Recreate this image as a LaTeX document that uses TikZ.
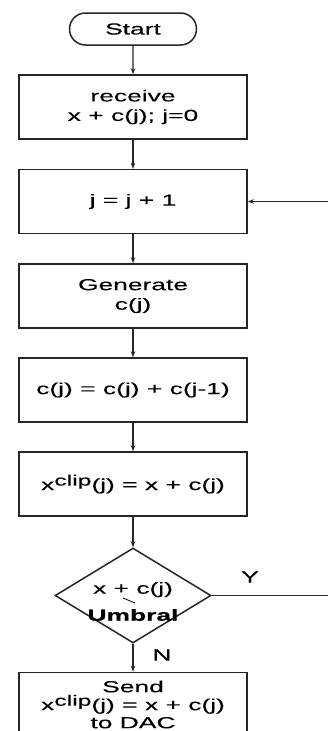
\documentclass[tikz,border=0pt]{standalone}
\usepackage{fontspec}
\setmainfont[FakeStretch=1.65, FakeBold=0.12]{Liberation Sans}
\newfontfamily\heavyfont[FakeStretch=1.65, FakeBold=0.8]{Liberation Sans Bold}
\usetikzlibrary{arrows.meta, positioning, shapes.geometric, shapes.misc, calc}
\newcommand{\clipx}{x\raisebox{4.5pt}{\fontsize{15}{15}\selectfont clip}(j)}

\begin{document}
\begin{tikzpicture}[x=1pt, y=-1pt,
    every node/.style={font=\fontsize{16}{19.5}\selectfont},
    block/.style={draw=black!85, line width=1.6pt, rectangle, minimum width=228pt, minimum height=64pt, align=center, inner sep=0pt},
    term/.style={draw=black!85, line width=1.5pt, rounded rectangle, minimum width=127pt, minimum height=32pt, inner sep=0pt},
    decide/.style={draw=black!85, line width=1.5pt, diamond, minimum width=156pt, minimum height=95pt, inner sep=0pt},
    flow/.style={-{Stealth[length=6pt,width=4.5pt]}, line width=1.4pt, draw=black!85}]
    \useasboundingbox (0,0) rectangle (328,731);
    \clip (0,0) rectangle (328,731);

    % Steps
    \node[term] (start) at (133,29) {Start};
    \node[block] (recv) at (133,107) {receive\\x + c(j); j=0};
    \node[block] (inc) at (133,201.5) {j = j + 1};
    \node[block] (gen) at (133,296) {Generate\\c(j)};
    \node[block] (acc) at (133,390) {c(j) = c(j) + c(j-1)};
    \node[block] (clip) at (133,484) {\clipx{} = x + c(j)};

    % Decision
    \node[decide] (test) at (133,595.5) {};
    \node[align=center] (testtxt) at (133,601.5) {x + c(j)\\[7.5pt]{\heavyfont Umbral}};
    \draw[line width=0.8pt] (123,598) -- (135,603);
    \node (ylab) at (250,577) {Y};
    \node (nlab) at (162,655) {N};

    \node[block, font=\fontsize{16}{18}\selectfont] (send) at (133,704.5) {Send\\\clipx{} = x + c(j)\\to DAC};

    % Free ends at the right edge
    \coordinate (loopin) at (328,201.5);
    \coordinate (yend) at (328,595.5);

    % Connectors
    \draw[flow] (start) -- (recv);
    \draw[flow] (recv) -- (inc);
    \draw[flow] (inc) -- (gen);
    \draw[flow] (gen) -- (acc);
    \draw[flow] (acc) -- (clip);
    \draw[flow] (clip) -- (test);
    \draw[flow] (test) -- (send);
    \draw[line width=1.4pt, draw=black!85] (test.east) -- (yend);
    \draw[flow] (loopin) -- (inc);
\end{tikzpicture}
\end{document}
